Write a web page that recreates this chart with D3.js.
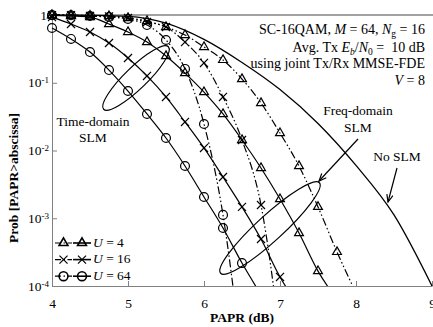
<!DOCTYPE html>
<html>
<head>
<meta charset="utf-8">
<script src="https://cdn.jsdelivr.net/npm/d3@7"></script>
<style>
  body { margin: 0; background: #fff; }
  svg { display: block; }
  text { font-family: "Liberation Serif", "Times New Roman", serif; fill: #000; }
</style>
</head>
<body>
<svg id="chart" width="433" height="327"></svg>
<script>
// PAPR grid (dB) shared by the SLM curves, markers every 0.25 dB
const papr = [4, 4.25, 4.5, 4.75, 5, 5.25, 5.5, 5.75, 6, 6.25, 6.5, 6.75, 7, 7.25, 7.5, 7.75, 8];

// time-domain SLM (solid)
const timeU4  = [0.99, 0.966, 0.933, 0.736, 0.561, 0.399, 0.248, 0.139, 0.0729, 0.0346, 0.0143, 0.00552, 0.00192, 0.000605, 0.000166, 0.000063];
const timeU16 = [0.933, 0.736, 0.561, 0.386, 0.232, 0.126, 0.0617, 0.0264, 0.0109, 0.00406, 0.00147, 0.000494, 0.000136, 0.00005];
const timeU64 = [0.643, 0.443, 0.284, 0.154, 0.0755, 0.0346, 0.0153, 0.0059, 0.00206, 0.000718, 0.000218, 0.000074];

// freq-domain SLM (dash-dot)
const freqU4  = [0.995, 0.99, 0.98, 0.965, 0.904, 0.815, 0.665, 0.507, 0.337, 0.217, 0.1135, 0.0502, 0.0181, 0.0059, 0.00147, 0.000318, 0.000079];
const freqU16 = [0.995, 0.99, 0.966, 0.955, 0.904, 0.789, 0.665, 0.399, 0.196, 0.0617, 0.0143, 0.00157, 0.000018];
const freqU64 = [0.995, 0.99, 0.966, 0.933, 0.873, 0.711, 0.428, 0.160, 0.0246, 0.00112, 0.0000079];

// no SLM
const noSlmPapr = [4, 4.5, 5, 5.5, 6, 6.5, 7, 7.5, 8, 8.5, 9];
const noSlm = [0.999, 0.989, 0.955, 0.759, 0.437, 0.1995, 0.0794, 0.0251, 0.00603, 0.00112, 0.0001];

const xTicks = [4, 5, 6, 7, 8, 9];
const yTicks = [1e-4, 1e-3, 1e-2, 1e-1, 1];
const yTickLabels = ["-4", "-3", "-2", "-1", ""];
const legendLabels = ["4", "16", "64"];

const svg = d3.select("#chart");
const x = d3.scaleLinear().domain([4, 9]).range([52, 432]);
const y = d3.scaleLog().domain([1e-4, 1]).range([286, 15]);

const dashDot = "8,2.5,1.5,2.5,1.5,2.5";
const tri = d3.symbol().type(d3.symbolTriangle).size(34);
const cross = d3.symbol().type(d3.symbolX).size(44);
const circ = d3.symbol().type(d3.symbolCircle).size(62);

const series = [
  { vals: timeU4,  dash: null,    sym: tri },
  { vals: timeU16, dash: null,    sym: cross },
  { vals: timeU64, dash: null,    sym: circ },
  { vals: freqU4,  dash: dashDot, sym: tri },
  { vals: freqU16, dash: dashDot, sym: cross },
  { vals: freqU64, dash: dashDot, sym: circ }
];

svg.append("clipPath").attr("id", "plotclip")
  .append("rect").attr("x", 40).attr("y", 0).attr("width", 393).attr("height", 286);

// axes
const gx = svg.append("g").attr("transform", "translate(0,286)");
gx.call(d3.axisBottom(x).tickValues(d3.range(4, 9.01, 0.25)).tickSize(-4).tickFormat(""));
gx.call(d3.axisBottom(x).tickValues(xTicks).tickSizeInner(-5).tickSizeOuter(0).tickPadding(12)
  .tickFormat(d3.format("d")));
gx.selectAll("line, path").attr("stroke", "#808080");
gx.selectAll("text").style("font-size", "13.5px").attr("font-family", null);

const minorY = [];
[1e-4, 1e-3, 1e-2, 1e-1].forEach(d => { for (let k = 2; k <= 9; k++) minorY.push(d * k); });
const gy = svg.append("g").attr("transform", "translate(52,0)");
gy.call(d3.axisLeft(y).tickValues(minorY).tickSize(-3).tickFormat(""));
gy.call(d3.axisLeft(y).tickValues(yTicks).tickSize(-5).tickSizeOuter(0).tickFormat(""));
gy.selectAll("line, path").attr("stroke", "#808080");

// top border
svg.append("line").attr("x1", 52).attr("x2", 433).attr("y1", 15).attr("y2", 15)
  .attr("stroke", "#444").attr("stroke-width", 1);

// y tick labels
yTicks.forEach((t, i) => {
  const tx = svg.append("text").attr("x", 49).attr("y", y(t) + 4.7)
    .attr("text-anchor", "end").style("font-size", "13.5px");
  if (yTickLabels[i] === "") {
    tx.attr("x", 47).text("1");
  } else {
    tx.append("tspan").text("10");
    tx.append("tspan").attr("dy", -4).style("font-size", "9px").text(yTickLabels[i]);
  }
});

// axis titles
svg.append("text").attr("x", 242).attr("y", 322).attr("text-anchor", "middle")
  .style("font-size", "13.5px").style("font-weight", "bold").text("PAPR (dB)");
svg.append("text").attr("transform", "translate(18,178) rotate(-90)").attr("text-anchor", "middle")
  .style("font-size", "13.5px").style("font-weight", "bold").text("Prob [PAPR>abscissa]");

// curves
const line = d3.line().x(d => x(d[0])).y(d => y(d[1])).curve(d3.curveMonotoneX);
const plot = svg.append("g");

plot.append("path")
  .attr("clip-path", "url(#plotclip)")
  .attr("d", line(noSlmPapr.map((p, i) => [p, noSlm[i]])))
  .attr("fill", "none").attr("stroke", "#000").attr("stroke-width", 1.3);

series.forEach(s => {
  const pts = s.vals.map((v, i) => [papr[i], v]);
  plot.append("path")
    .attr("clip-path", "url(#plotclip)")
    .attr("d", line(pts))
    .attr("fill", "none").attr("stroke", "#000").attr("stroke-width", 1.2)
    .attr("stroke-dasharray", s.dash);
  plot.selectAll(null).data(pts.filter(d => d[1] >= 1e-4)).enter().append("path")
    .attr("transform", d => `translate(${x(d[0])},${y(d[1])})`)
    .attr("d", s.sym())
    .attr("fill", "none").attr("stroke", "#000").attr("stroke-width", 1.2);
});

// annotation text (top right)
const info = svg.append("text").attr("text-anchor", "end").style("font-size", "14px");
const l1 = info.append("tspan").attr("x", 425).attr("y", 34);
l1.append("tspan").text("SC-16QAM, ");
l1.append("tspan").style("font-style", "italic").text("M");
l1.append("tspan").text(" = 64, ");
l1.append("tspan").style("font-style", "italic").text("N");
l1.append("tspan").attr("dy", 3).style("font-size", "9.5px").text("g");
l1.append("tspan").attr("dy", -3).text(" = 16");
const l2 = info.append("tspan").attr("x", 425).attr("y", 51.5);
l2.append("tspan").text("Avg. Tx ");
l2.append("tspan").style("font-style", "italic").text("E");
l2.append("tspan").attr("dy", 3).style("font-size", "9.5px").style("font-style", "italic").text("b");
l2.append("tspan").attr("dy", -3).text("/");
l2.append("tspan").style("font-style", "italic").text("N");
l2.append("tspan").attr("dy", 3).style("font-size", "9.5px").text("0");
l2.append("tspan").attr("dy", -3).text(" =\u00a0 10 dB");
info.append("tspan").attr("x", 425).attr("y", 68).text("using joint Tx/Rx MMSE-FDE");
const l4 = info.append("tspan").attr("x", 425).attr("y", 85);
l4.append("tspan").style("font-style", "italic").text("V");
l4.append("tspan").text(" = 8");

// ellipses
function ellipse(cx, cy, rx, ry, ang) {
  svg.append("ellipse").attr("cx", 0).attr("cy", 0).attr("rx", rx).attr("ry", ry)
    .attr("transform", `translate(${cx},${cy}) rotate(${ang})`)
    .attr("fill", "none").attr("stroke", "#000").attr("stroke-width", 1.2);
}
ellipse(136, 78, 45, 11, -44);
ellipse(270, 228, 67, 13, -42.5);

// arrows
function arrow(x1, y1, x2, y2) {
  svg.append("line").attr("x1", x1).attr("y1", y1).attr("x2", x2).attr("y2", y2)
    .attr("stroke", "#000").attr("stroke-width", 1.2);
  const a = Math.atan2(y2 - y1, x2 - x1), L = 8, w = 0.4;
  const p = [[x2 - L * Math.cos(a - w), y2 - L * Math.sin(a - w)], [x2, y2],
             [x2 - L * Math.cos(a + w), y2 - L * Math.sin(a + w)]];
  svg.append("path").attr("d", d3.line()(p)).attr("fill", "none")
    .attr("stroke", "#000").attr("stroke-width", 1.2);
}
arrow(358, 139, 319, 181);
arrow(397, 168, 388, 202);

// labels
function label(cx, yy, txt) {
  svg.append("text").attr("x", cx).attr("y", yy).attr("text-anchor", "middle")
    .style("font-size", "13.5px").text(txt);
}
label(93, 126, "Time-domain");
label(93, 142, "SLM");
label(358, 115, "Freq-domain");
label(358, 132, "SLM");
label(397, 161, "No SLM");

// legend
const legSyms = [tri, cross, circ];
legendLabels.forEach((lab, i) => {
  const ly = 243 + i * 16.6;
  const g = svg.append("g");
  g.append("line").attr("x1", 55).attr("x2", 72).attr("y1", ly).attr("y2", ly)
    .attr("stroke", "#000").attr("stroke-width", 1.2).attr("stroke-dasharray", "6,2.5,1.5,2.5");
  g.append("line").attr("x1", 73).attr("x2", 91).attr("y1", ly).attr("y2", ly)
    .attr("stroke", "#000").attr("stroke-width", 1.6);
  [63.5, 82].forEach(mx => g.append("path").attr("transform", `translate(${mx},${ly})`)
    .attr("d", legSyms[i]()).attr("fill", "none").attr("stroke", "#000")
    .attr("stroke-width", i === 1 ? 1.2 : 1.6));
  const t = g.append("text").attr("x", 93).attr("y", ly + 3.5).style("font-size", "13.5px");
  t.append("tspan").style("font-style", "italic").text("U");
  t.append("tspan").text(" = " + lab);
});
</script>
</body>
</html>
